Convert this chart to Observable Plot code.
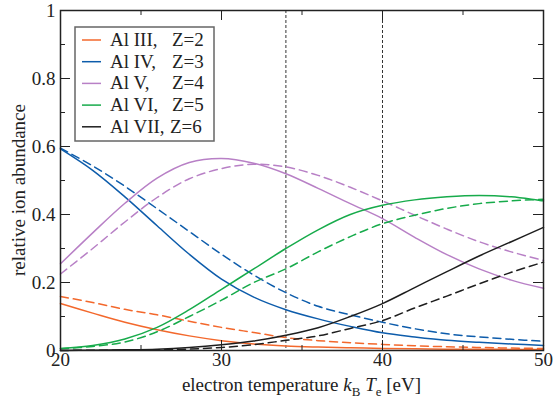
<!DOCTYPE html>
<html><head><meta charset="utf-8">
<script src="https://cdn.jsdelivr.net/npm/d3@7"></script>
<script src="https://cdn.jsdelivr.net/npm/@observablehq/plot@0.6"></script>
<style>body{margin:0;background:#fff}#wrap{width:554px;height:400px}
svg text{font-family:"Liberation Serif","DejaVu Serif","Times New Roman",serif !important;}</style>
</head><body><div id="wrap"></div>
<script>
// temperature grid (eV)
const temperature = [20,22,24,26,28,30,32,34,36,38,40,42,44,46,48,50];
// legend labels
const ionNames = ["Al III,", "Al IV,", "Al V,", "Al VI,", "Al VII,"];
const ionCharges = ["Z=2", "Z=3", "Z=4", "Z=5", "Z=6"];
const ionColors = ["#f3682c", "#0d5cab", "#b880c6", "#17ab4b", "#1e1e1e"];
// solid curves
const alIII_solid  = [.138,.110,.083,.061,.043,.029,.019,.013,.010,.008,.006,.005,.004,.004,.003,.003];
const alIV_solid   = [.593,.530,.452,.367,.283,.210,.157,.120,.093,.071,.052,.040,.030,.024,.019,.015];
const alV_solid    = [.255,.346,.433,.507,.553,.565,.551,.520,.477,.432,.388,.333,.282,.240,.207,.183];
const alVI_solid   = [.006,.015,.034,.068,.120,.180,.240,.300,.355,.400,.427,.443,.452,.456,.452,.440];
const alVII_solid  = [.000,.001,.002,.004,.009,.017,.028,.045,.067,.100,.138,.185,.232,.278,.320,.362];
// dashed curves
const alIII_dashed = [.159,.141,.121,.105,.086,.068,.053,.038,.029,.023,.018,.014,.011,.009,.007,.006];
const alIV_dashed  = [.595,.543,.483,.417,.350,.283,.222,.170,.130,.105,.083,.064,.049,.040,.033,.027];
const alV_dashed   = [.225,.300,.378,.450,.505,.535,.548,.540,.515,.480,.440,.398,.357,.320,.290,.265];
const alVI_dashed  = [.005,.012,.025,.055,.100,.148,.200,.240,.290,.335,.373,.398,.418,.432,.440,.445];
const alVII_dashed = [.000,.001,.001,.002,.004,.009,.017,.030,.043,.065,.088,.125,.160,.196,.230,.260];
// reference temperatures
const markerTemps = [34, 40];
// ticks
const xMajor = [20,30,40,50];
const xMinor = [25,35,45];
const yMajor = [0,0.2,0.4,0.6,0.8,1];
const yMinor = [0.1,0.3,0.5,0.7,0.9];

const solids = [alIII_solid, alIV_solid, alV_solid, alVI_solid, alVII_solid];
const dashes = [alIII_dashed, alIV_dashed, alV_dashed, alVI_dashed, alVII_dashed];

const W = 554, H = 400, mL = 60, mR = 11, mT = 10, mB = 50;
const fw = W - mL - mR, fh = H - mT - mB;
const font = '"Liberation Serif","DejaVu Serif","Times New Roman",serif';
const ink = "#222";

const toRows = arr => temperature.map((t, i) => ({T: t, v: arr[i]}));
const lineMarks = [];
solids.forEach((s, i) => {
  lineMarks.push(Plot.line(toRows(dashes[i]), {x: "T", y: "v", stroke: ionColors[i], strokeWidth: 1.5, strokeDasharray: "8,5", curve: "catmull-rom"}));
  lineMarks.push(Plot.line(toRows(s), {x: "T", y: "v", stroke: ionColors[i], strokeWidth: 1.5, curve: "catmull-rom"}));
});

const plot = Plot.plot({
  width: W, height: H,
  marginLeft: mL, marginRight: mR, marginTop: mT, marginBottom: mB,
  style: {fontFamily: font, fontSize: "19px", background: "white", color: ink, overflow: "visible"},
  x: {domain: [20, 50]},
  y: {domain: [0, 1]},
  marks: [
    Plot.ruleX(markerTemps, {x: d => d, stroke: "#333", strokeWidth: 1, strokeDasharray: "3,2"}),
    ...lineMarks,
    // inward ticks on all four sides
    Plot.tickY(yMajor, {y: d => d, insetRight: fw - 10, stroke: ink}),
    Plot.tickY(yMajor, {y: d => d, insetLeft: fw - 10, stroke: ink}),
    Plot.tickY(yMinor, {y: d => d, insetRight: fw - 5, stroke: ink}),
    Plot.tickY(yMinor, {y: d => d, insetLeft: fw - 5, stroke: ink}),
    Plot.tickX(xMajor, {x: d => d, insetTop: fh - 10, stroke: ink}),
    Plot.tickX(xMajor, {x: d => d, insetBottom: fh - 10, stroke: ink}),
    Plot.tickX(xMinor, {x: d => d, insetTop: fh - 5, stroke: ink}),
    Plot.tickX(xMinor, {x: d => d, insetBottom: fh - 5, stroke: ink}),
    Plot.axisY({ticks: yMajor, tickSize: 0, tickPadding: 5, tickFormat: d => String(d), label: null, fontSize: 19}),
    Plot.axisX({ticks: xMajor, tickSize: 0, tickPadding: 2, tickFormat: d => String(d), label: null, fontSize: 19}),
    Plot.frame({stroke: ink, strokeWidth: 1.5})
  ]
});
document.getElementById("wrap").appendChild(plot);

const svg = d3.select(plot);
const addText = (sel, x, y, anchor) => sel.append("text")
  .attr("x", x).attr("y", y)
  .attr("text-anchor", anchor)
  .attr("font-family", font).attr("font-size", 19).attr("fill", ink);
// y label
addText(svg, 0, 0, "middle")
  .attr("transform", `translate(25,${mT + fh / 2 + 10}) rotate(-90)`)
  .text("relative ion abundance");
// x label
const xl = addText(svg, mL + fw / 2, 391, "middle");
xl.append("tspan").text("electron temperature ");
xl.append("tspan").attr("font-style", "italic").text("k");
xl.append("tspan").attr("dy", 5).attr("font-size", 13).text("B");
xl.append("tspan").attr("dy", -5).text(" ");
xl.append("tspan").attr("font-style", "italic").text("T");
xl.append("tspan").attr("dy", 5).attr("font-size", 13).text("e");
xl.append("tspan").attr("dy", -5).text(" [eV]");

// legend
const lg = svg.append("g");
lg.append("rect").attr("x", 75).attr("y", 27).attr("width", 139).attr("height", 114)
  .attr("fill", "white").attr("stroke", "#666").attr("stroke-width", 1.5);
ionNames.forEach((n, i) => {
  const cy = 40 + i * 21.7;
  lg.append("line").attr("x1", 82).attr("x2", 101).attr("y1", cy).attr("y2", cy)
    .attr("stroke", ionColors[i]).attr("stroke-width", 1.5);
  addText(lg, 110, cy + 6, "start").text(n);
  addText(lg, i === 4 ? 170 : 172, cy + 6, "start").text(ionCharges[i]);
});
</script></body></html>
